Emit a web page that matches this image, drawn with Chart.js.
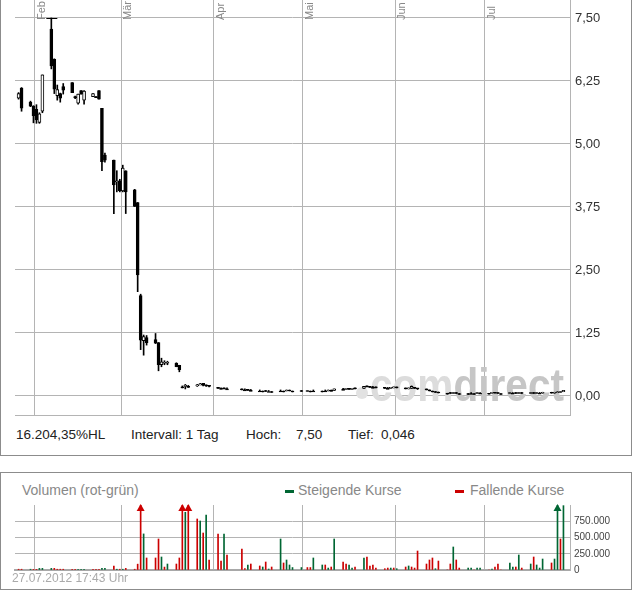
<!DOCTYPE html>
<html>
<head>
<meta charset="utf-8">
<script src="https://cdn.jsdelivr.net/npm/chart.js@4.4.1/dist/chart.umd.min.js"></script>
<style>
body { margin: 0; background: #fff; font-family: "Liberation Sans", Arial, sans-serif; }
#wrap { position: relative; width: 632px; height: 590px; overflow: hidden; }
.panel { position: absolute; box-sizing: border-box; border: 1px solid #8c8c8c; }
#p1 { left: 0; top: -1px; width: 632px; height: 457px; }
#p2 { left: 0; top: 472px; width: 632px; height: 118px; }
canvas { position: absolute; left: 0; }
#price { top: 0; }
#vol { top: 500px; }
.t { position: absolute; white-space: nowrap; line-height: 1; }
.info { top: 428px; font-size: 13.5px; color: #222; }
.dash { position: absolute; width: 9px; height: 3px; top: 490px; }
</style>
</head>
<body>
<div id="wrap">
  <div class="panel" id="p1"></div>
  <div class="panel" id="p2"></div>
  <canvas id="price" width="632" height="416"></canvas>
  <canvas id="vol" width="632" height="76"></canvas>

  <div class="t info" style="left:16px">16.204,35%HL</div>
  <div class="t info" style="left:131px">Intervall: 1 Tag</div>
  <div class="t info" style="left:246px">Hoch:</div>
  <div class="t info" style="left:296px">7,50</div>
  <div class="t info" style="left:348px">Tief:</div>
  <div class="t info" style="left:381px">0,046</div>

  <div class="t" style="left:22px;top:483px;font-size:14px;color:#888">Volumen (rot-grün)</div>
  <div class="dash" style="left:285px;background:#006633"></div>
  <div class="t" style="left:298px;top:483px;font-size:14px;color:#888">Steigende Kurse</div>
  <div class="dash" style="left:455px;background:#cc0000"></div>
  <div class="t" style="left:470px;top:483px;font-size:14px;color:#888">Fallende Kurse</div>
  <div class="t" style="left:12px;top:572px;font-size:12px;color:#aaa">27.07.2012 17:43 Uhr</div>
</div>

<script>
// Handelstage 2012 (TT.MM)
const dates = [
  '26.01','27.01','30.01','31.01','01.02','02.02','03.02',
  '06.02','07.02','08.02','09.02','10.02','13.02','14.02','15.02','16.02','17.02',
  '20.02','21.02','22.02','23.02','24.02','27.02','28.02','29.02','01.03','02.03',
  '05.03','06.03','07.03','08.03','09.03','12.03','13.03','14.03','15.03','16.03',
  '19.03','20.03','21.03','22.03','23.03','26.03','27.03','28.03','29.03','30.03',
  '02.04','03.04','04.04','05.04','10.04','11.04','12.04','13.04',
  '16.04','17.04','18.04','19.04','20.04','23.04','24.04','25.04','26.04','27.04',
  '30.04','02.05','03.05','04.05','07.05','08.05','09.05','10.05','11.05',
  '14.05','15.05','16.05','17.05','18.05','21.05','22.05','23.05','24.05','25.05',
  '28.05','29.05','30.05','31.05','01.06','04.06','05.06','06.06','07.06','08.06',
  '11.06','12.06','13.06','14.06','15.06','18.06','19.06','20.06','21.06','22.06',
  '25.06','26.06','27.06','28.06','29.06','02.07','03.07','04.07','05.07','06.07',
  '09.07','10.07','11.07','12.07','13.07','16.07','17.07','18.07','19.07','20.07',
  '23.07','24.07','25.07','26.07','27.07'
];
const open = [
  5.91,6.11,5.83,5.75,5.69,5.43,5.65,
  7.28,6.68,5.96,6.00,6.14,6.22,5.94,5.81,6.06,5.87,
  5.94,5.94,6.06,5.71,4.78,4.68,4.25,4.27,4.07,4.47,
  4.09,3.84,1.99,1.10,1.16,1.12,1.06,0.62,0.65,0.65,
  0.65,0.61,0.18,0.19,0.19,0.20,0.22,0.25,0.22,0.20,
  0.16,0.15,0.15,0.14,0.13,0.12,0.12,0.11,
  0.10,0.10,0.10,0.09,0.09,0.10,0.10,0.10,0.11,0.10,
  0.10,0.09,0.10,0.10,0.10,0.10,0.10,0.11,0.11,
  0.13,0.13,0.14,0.13,0.15,0.15,0.19,0.18,0.17,0.17,
  0.16,0.15,0.15,0.16,0.17,0.15,0.14,0.15,0.17,0.15,
  0.13,0.12,0.10,0.08,0.07,0.055,0.055,0.05,0.055,0.05,
  0.05,0.05,0.05,0.05,0.055,0.055,0.055,0.06,0.055,0.05,
  0.05,0.055,0.055,0.05,0.055,0.05,0.055,0.05,0.055,0.055,
  0.06,0.055,0.065,0.07,0.085
];
const high = [
  6.02,6.12,5.85,5.76,5.78,5.62,6.37,
  7.50,6.69,6.17,6.01,6.20,6.22,5.95,5.99,6.06,6.06,
  6.00,5.94,6.06,5.71,4.82,4.68,4.47,4.30,4.58,4.47,
  4.10,3.84,2.02,1.21,1.20,1.24,1.06,0.75,0.70,0.69,
  0.66,0.61,0.20,0.23,0.21,0.23,0.25,0.25,0.22,0.20,
  0.17,0.16,0.16,0.15,0.14,0.13,0.13,0.12,
  0.11,0.10,0.10,0.10,0.09,0.11,0.10,0.11,0.11,0.10,
  0.10,0.10,0.10,0.11,0.10,0.11,0.11,0.11,0.14,
  0.14,0.15,0.14,0.15,0.15,0.19,0.20,0.19,0.18,0.17,
  0.16,0.16,0.16,0.17,0.17,0.15,0.15,0.20,0.17,0.15,
  0.13,0.12,0.10,0.08,0.07,0.055,0.06,0.06,0.055,0.05,
  0.05,0.05,0.05,0.055,0.055,0.055,0.06,0.06,0.055,0.05,
  0.055,0.055,0.055,0.055,0.055,0.055,0.055,0.055,0.055,0.06,
  0.06,0.065,0.08,0.09,0.11
];
const low = [
  5.89,5.65,5.74,5.42,5.41,5.41,5.62,
  6.49,6.00,5.87,5.83,5.99,6.02,5.90,5.79,5.99,5.79,
  5.94,5.94,5.89,4.47,4.64,3.62,4.05,4.05,4.05,3.62,
  3.76,2.07,0.92,0.81,1.01,1.04,0.50,0.58,0.62,0.62,
  0.58,0.48,0.16,0.14,0.17,0.19,0.22,0.20,0.19,0.18,
  0.15,0.14,0.14,0.14,0.12,0.12,0.11,0.11,
  0.10,0.10,0.09,0.09,0.09,0.10,0.10,0.10,0.10,0.10,
  0.09,0.09,0.10,0.10,0.10,0.10,0.10,0.10,0.11,
  0.13,0.13,0.13,0.13,0.14,0.15,0.18,0.17,0.17,0.16,
  0.15,0.15,0.15,0.16,0.16,0.14,0.14,0.15,0.15,0.13,
  0.12,0.10,0.08,0.07,0.06,0.055,0.05,0.05,0.05,0.05,
  0.05,0.046,0.05,0.05,0.05,0.055,0.055,0.055,0.05,0.05,
  0.05,0.05,0.05,0.05,0.05,0.05,0.05,0.05,0.05,0.055,
  0.055,0.055,0.065,0.07,0.085
];
const close = [
  6.00,5.71,5.75,5.56,5.48,5.60,6.37,
  6.55,6.09,6.08,5.91,6.07,6.02,5.92,5.99,5.99,6.05,
  6.00,5.94,5.89,4.65,4.68,4.19,4.27,4.07,4.52,4.05,
  3.76,2.40,1.11,1.18,1.06,1.05,0.62,0.68,0.66,0.66,
  0.58,0.52,0.18,0.20,0.19,0.21,0.24,0.21,0.20,0.19,
  0.15,0.15,0.14,0.14,0.12,0.12,0.11,0.11,
  0.10,0.10,0.09,0.09,0.09,0.10,0.10,0.11,0.10,0.10,
  0.09,0.10,0.10,0.10,0.10,0.10,0.11,0.11,0.14,
  0.13,0.14,0.13,0.15,0.14,0.19,0.18,0.17,0.17,0.16,
  0.15,0.15,0.16,0.17,0.16,0.14,0.15,0.19,0.15,0.14,
  0.12,0.10,0.08,0.07,0.06,0.055,0.05,0.055,0.05,0.05,
  0.05,0.05,0.05,0.055,0.055,0.055,0.06,0.055,0.05,0.05,
  0.055,0.055,0.05,0.055,0.05,0.055,0.05,0.055,0.055,0.06,
  0.055,0.065,0.08,0.085,0.11
];
// Stücke je Tag
const volume = [
  12000,12000,12000,10000,10000,25000,25000,
  25000,25000,12000,12000,12000,12000,12000,12000,12000,12000,
  12000,12000,12000,25000,25000,60000,12000,12000,12000,25000,
  12000,90000,1250000,555000,185000,185000,477000,200000,45000,92000,
  92000,185000,1300000,888000,1200000,785000,754000,569000,846000,154000,
  554000,138000,554000,231000,323000,20000,77000,92000,
  62000,46000,123000,15000,46000,477000,108000,154000,77000,38000,
  38000,38000,38000,185000,77000,77000,30000,46000,477000,
  123000,92000,77000,30000,46000,185000,200000,62000,77000,30000,
  20000,30000,30000,30000,20000,46000,62000,46000,30000,292000,
  92000,154000,185000,20000,138000,0,92000,354000,154000,30000,
  30000,30000,0,30000,30000,0,15000,46000,92000,0,
  108000,46000,46000,231000,30000,92000,200000,77000,30000,169000,
  108000,169000,1400000,477000,990000
];
// 1 = steigende Kurse (grün), 0 = fallende Kurse (rot)
const volUp = [
  0,0,1,0,0,1,1,
  1,0,0,0,0,0,0,1,1,1,
  0,0,0,1,1,0,1,0,1,0,
  0,0,0,1,0,0,0,1,0,1,
  0,0,0,1,0,0,1,0,1,0,
  0,0,1,0,0,0,1,0,
  0,1,0,1,0,1,0,1,1,1,
  1,0,0,1,1,0,1,0,1,
  0,0,1,1,0,1,0,0,0,0,
  0,0,1,0,1,0,1,0,0,0,
  0,0,0,1,0,0,0,1,0,0,
  1,1,0,1,1,0,1,0,0,0,
  1,1,0,1,0,1,0,1,1,1,
  0,1,1,0,1
];
const priceTicks = [0, 1.25, 2.5, 3.75, 5, 6.25, 7.5];
const volTicks = [0, 125000, 250000, 375000, 500000, 625000, 750000, 875000];
const volLabelStep = 250000;
const months = ['Feb', 'Mär', 'Apr', 'Mai', 'Jun', 'Jul'];
const monthStarts = ['01.02', '01.03', '01.04', '01.05', '01.06', '01.07'];

const GRID = '#b4b4b4';
const RED = '#cc0000';
const GREEN = '#006633';
const FONT = '"Liberation Sans", Arial, sans-serif';
const X_MIN = 24.3, X_MAX = 210.7;   // sichtbarer Zeitraum in Tagen seit 1.1.
const VOL_MAX = 1000000;

function dayNo(s) {
  const [d, m] = s.split('.').map(Number);
  return (Date.UTC(2012, m - 1, d) - Date.UTC(2012, 0, 1)) / 864e5;
}
const xs = dates.map(s => dayNo(s) + 0.5);
const monthX = monthStarts.map(dayNo);

const fmtPrice = v => v.toFixed(2).replace('.', ',');
const fmtVol = v => String(v).replace(/\B(?=(\d{3})+(?!\d))/g, '.');

// keine automatische Randreserve für Beschriftungen
function noPad(s) {
  s.paddingTop = 0; s.paddingBottom = 0; s.paddingLeft = 0; s.paddingRight = 0;
}

function xScale() {
  return {
    type: 'linear', min: X_MIN, max: X_MAX, offset: false,
    grid: { color: GRID, offset: false, drawTicks: false },
    border: { display: true, color: GRID },
    ticks: { display: false },
    afterBuildTicks: s => { s.ticks = monthX.map(v => ({ value: v })); },
    afterFit: s => { s.height = 0; noPad(s); }
  };
}

// Wasserzeichen, Monatsnamen und Hoch-Markierung
const priceDeco = {
  id: 'priceDeco',
  beforeDatasetsDraw(chart) {
    const c = chart.ctx;
    c.save();
    c.fillStyle = '#e2e2e2';
    c.beginPath();
    c.arc(362, 393, 6, 0, Math.PI * 2);
    c.fill();
    c.font = 'bold 47px ' + FONT;
    c.textBaseline = 'alphabetic';
    const w1 = c.measureText('com').width, w2 = c.measureText('direct').width;
    const k = 194 / (w1 + w2);
    c.translate(370, 401);
    c.scale(k, 1);
    c.fillStyle = '#dcdcdc';
    c.fillText('com', 0, 0);
    c.fillStyle = '#c6c6c6';
    c.fillText('direct', w1, 0);
    c.restore();
  },
  afterDatasetsDraw(chart) {
    const c = chart.ctx, x = chart.scales.x, y = chart.scales.y;
    const i = high.indexOf(Math.max(...high));
    const px = x.getPixelForValue(xs[i]), py = Math.round(y.getPixelForValue(high[i])) + 0.5;
    c.save();
    c.strokeStyle = '#000';
    c.lineWidth = 1;
    c.beginPath();
    c.moveTo(px - 5, py);
    c.lineTo(px + 6, py);
    c.stroke();
    c.restore();
  },
  afterDraw(chart) {
    const c = chart.ctx, x = chart.scales.x;
    c.save();
    c.font = '11px ' + FONT;
    c.fillStyle = '#888';
    c.textAlign = 'left';
    c.textBaseline = 'top';
    months.forEach((m, k) => {
      const px = x.getPixelForValue(monthX[k]);
      c.save();
      c.translate(px + 1.5, 20);
      c.rotate(-Math.PI / 2);
      c.fillText(m, 0, 0);
      c.restore();
    });
    c.restore();
  }
};

new Chart(document.getElementById('price'), {
  type: 'bar',
  data: {
    datasets: [
      {
        data: xs.map((x, i) => ({ x, y: [open[i], close[i]] })),
        barThickness: 3, minBarLength: 1, grouped: false,
        backgroundColor: ctx => close[ctx.dataIndex] > open[ctx.dataIndex] ? '#fff' : '#000',
        borderColor: '#000', borderWidth: 1, borderSkipped: false
      },
      {
        data: xs.map((x, i) => ({ x, y: [low[i], high[i]] })),
        barThickness: 1, minBarLength: 1, grouped: false,
        backgroundColor: '#000', borderWidth: 0
      }
    ]
  },
  options: {
    responsive: false, animation: false,
    layout: { padding: { left: 15, top: 0, bottom: 1, right: 0 } },
    plugins: { legend: { display: false }, tooltip: { enabled: false } },
    scales: {
      x: xScale(),
      y: {
        type: 'linear', position: 'right', min: -0.377, max: 7.857,
        grid: { color: GRID, drawTicks: false },
        border: { display: true, color: GRID },
        afterBuildTicks: s => { s.ticks = priceTicks.map(v => ({ value: v })); },
        afterFit: s => { s.width = 62; noPad(s); },
        ticks: { padding: 5, color: '#333', font: { family: FONT, size: 13 }, callback: v => fmtPrice(v) }
      }
    }
  },
  plugins: [priceDeco]
});

// Pfeile für Umsätze über dem Skalenende
const volArrows = {
  id: 'volArrows',
  afterDatasetsDraw(chart) {
    const c = chart.ctx, x = chart.scales.x, top = chart.chartArea.top;
    c.save();
    volume.forEach((v, i) => {
      if (v <= VOL_MAX) return;
      const px = x.getPixelForValue(xs[i]);
      c.fillStyle = volUp[i] ? GREEN : RED;
      c.beginPath();
      c.moveTo(px, top - 1);
      c.lineTo(px + 4, top + 6);
      c.lineTo(px - 4, top + 6);
      c.closePath();
      c.fill();
    });
    c.restore();
  }
};

new Chart(document.getElementById('vol'), {
  type: 'bar',
  data: {
    datasets: [{
      data: xs.map((x, i) => ({ x, y: volume[i] })),
      barThickness: 1, grouped: false,
      backgroundColor: volUp.map(u => u ? GREEN : RED),
      borderWidth: 0
    }]
  },
  options: {
    responsive: false, animation: false,
    layout: { padding: { left: 15, top: 5, bottom: 6, right: 0 } },
    plugins: { legend: { display: false }, tooltip: { enabled: false } },
    scales: {
      x: Object.assign(xScale(), { border: { display: true, color: '#a8a8a8', width: 2 } }),
      y: {
        type: 'linear', position: 'right', min: 0, max: VOL_MAX,
        grid: { color: GRID, drawTicks: false },
        border: { display: true, color: GRID },
        afterBuildTicks: s => { s.ticks = volTicks.map(v => ({ value: v })); },
        afterFit: s => { s.width = 62; noPad(s); },
        ticks: {
          padding: 4, color: '#444', font: { family: FONT, size: 10 },
          callback: v => (v % volLabelStep === 0 ? fmtVol(v) : '')
        }
      }
    }
  },
  plugins: [volArrows]
});
</script>
</body>
</html>
